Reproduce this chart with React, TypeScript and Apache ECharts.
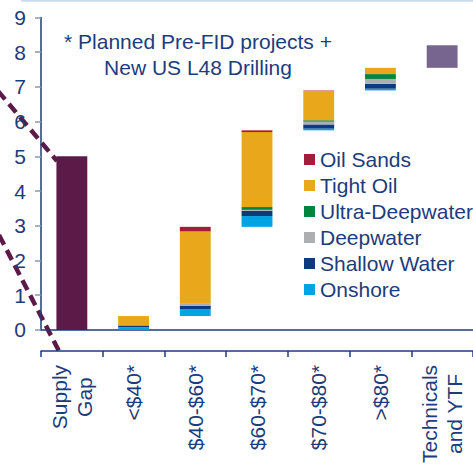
import React, { useEffect, useRef } from 'react';
import * as echarts from 'echarts';

// Category labels along the bottom axis
const categories = ['Supply\nGap', '<$40*', '$40-$60*', '$60-$70*', '$70-$80*', '>$80*', 'Technicals\nand YTF'];

// Supply gap and the technicals / yet-to-find block (mb/d)
const supplyGap = 5.0;
const technicalsYtf = 0.65;

// Price tiers: <$40, $40-$60, $60-$70, $70-$80, >$80
const onshore = [0.08, 0.2, 0.31, 0.05, 0.05];
const shallowWater = [0.05, 0.1, 0.15, 0.12, 0.14];
const deepwater = [0.01, 0.05, 0.03, 0.08, 0.14];
const ultraDeepwater = [0.0, 0.01, 0.08, 0.04, 0.14];
const tightOil = [0.26, 2.08, 2.16, 0.85, 0.18];
const oilSands = [0.0, 0.13, 0.05, 0.01, 0.0];

const yMin = 0;
const yMax = 9;
const yStep = 1;

const NAVY = '#1d3c7c';
const FONT = '"Liberation Sans", Arial, sans-serif';

const COLORS = {
  gap: '#5b1a48',
  technicals: '#77658f',
  oilSands: '#a51c3a',
  tightOil: '#e9a81b',
  ultraDeepwater: '#00853f',
  deepwater: '#adaeb0',
  shallowWater: '#0b3a7f',
  onshore: '#00a4e1',
};

export default function App() {
  const ref = useRef<HTMLDivElement>(null);

  useEffect(() => {
    if (!ref.current) return;
    const chart = echarts.init(ref.current, undefined, { renderer: 'svg' });

    // Waterfall: each tier starts where the previous one ends
    const tiers = [onshore, shallowWater, deepwater, ultraDeepwater, tightOil, oilSands];
    const tierTotals = onshore.map((_, i) => tiers.reduce((s, arr) => s + arr[i], 0));
    const bases: number[] = [];
    let running = 0;
    tierTotals.forEach((t) => {
      bases.push(+running.toFixed(4));
      running += t;
    });
    const techBase = +running.toFixed(4);

    const tierData = (arr: number[]) => ['-', ...arr, '-'];

    const seg = (name: string, arr: number[], color: string) => ({
      name,
      type: 'bar',
      stack: 'w',
      barWidth: '50%',
      data: tierData(arr),
      itemStyle: { color },
      silent: true,
    });

    chart.setOption({
      animation: false,
      grid: { left: 41, right: 0, top: 17.5, bottom: 135, containLabel: false },
      legend: {
        data: ['Oil Sands', 'Tight Oil', 'Ultra-Deepwater', 'Deepwater', 'Shallow Water', 'Onshore'],
        orient: 'vertical',
        left: 299,
        top: 144,
        itemWidth: 11,
        itemHeight: 11,
        itemGap: 5,
        icon: 'rect',
        selectedMode: false,
        textStyle: { fontSize: 21, color: NAVY, fontFamily: FONT },
      },
      xAxis: [
        {
          type: 'category',
          data: categories,
          position: 'bottom',
          axisLine: { lineStyle: { color: NAVY, width: 1.5 } },
          axisTick: { show: false },
          axisLabel: { show: false },
        },
        {
          type: 'category',
          data: categories,
          position: 'bottom',
          offset: 21,
          axisLine: { lineStyle: { color: NAVY, width: 1.5 } },
          axisTick: { show: true, length: 6, lineStyle: { color: NAVY, width: 1.5 } },
          axisLabel: {
            rotate: 90,
            margin: 14,
            interval: 0,
            formatter: (v: string) => v.split('\n').map((s) => `{c|${s}}`).join('\n'),
            rich: {
              c: { align: 'center', fontSize: 21, color: NAVY, fontFamily: FONT, lineHeight: 25 },
            },
          },
        },
      ],
      yAxis: {
        type: 'value',
        min: yMin,
        max: yMax,
        interval: yStep,
        axisLine: { show: true, lineStyle: { color: NAVY, width: 1.5 } },
        axisTick: { show: true, length: 6, lineStyle: { color: '#8398bb', width: 1.5 } },
        axisLabel: { fontSize: 21, color: NAVY, fontFamily: FONT, margin: 15 },
        splitLine: { show: false },
      },
      series: [
        {
          name: 'base',
          type: 'bar',
          stack: 'w',
          barWidth: '50%',
          data: ['-', ...bases, techBase],
          itemStyle: { color: 'transparent' },
          silent: true,
        },
        {
          name: 'Supply Gap',
          type: 'bar',
          stack: 'w',
          barWidth: '50%',
          data: [supplyGap, '-', '-', '-', '-', '-', '-'],
          itemStyle: { color: COLORS.gap },
          silent: true,
        },
        seg('Onshore', onshore, COLORS.onshore),
        seg('Shallow Water', shallowWater, COLORS.shallowWater),
        seg('Deepwater', deepwater, COLORS.deepwater),
        seg('Ultra-Deepwater', ultraDeepwater, COLORS.ultraDeepwater),
        seg('Tight Oil', tightOil, COLORS.tightOil),
        seg('Oil Sands', oilSands, COLORS.oilSands),
        {
          name: 'Technicals and YTF',
          type: 'bar',
          stack: 'w',
          barWidth: '50%',
          data: ['-', '-', '-', '-', '-', '-', technicalsYtf],
          itemStyle: { color: COLORS.technicals },
          silent: true,
        },
      ],
      graphic: [
        {
          type: 'line',
          shape: { x1: 21, y1: 0.8, x2: 473, y2: 0.8 },
          style: { stroke: '#c8dcec', lineWidth: 2 },
          silent: true,
        },
        {
          type: 'text',
          x: 198,
          y: 28,
          style: {
            text: '* Planned Pre-FID projects +\nNew US L48 Drilling',
            align: 'center',
            verticalAlign: 'top',
            fontSize: 21,
            lineHeight: 26,
            fontFamily: FONT,
            fill: NAVY,
          },
          silent: true,
        },
        {
          type: 'line',
          shape: { x1: -2, y1: 91, x2: 57, y2: 161 },
          style: { stroke: COLORS.gap, lineWidth: 4.5, lineDash: [11, 6] },
          silent: true,
        },
        {
          type: 'line',
          shape: { x1: -1, y1: 235, x2: 59, y2: 351 },
          style: { stroke: COLORS.gap, lineWidth: 4.5, lineDash: [11, 6] },
          silent: true,
        },
      ],
    });

    return () => chart.dispose();
  }, []);

  return (
    <div
      ref={ref}
      style={{ position: 'fixed', left: 0, top: 0, width: 473, height: 466, background: '#ffffff' }}
    />
  );
}
